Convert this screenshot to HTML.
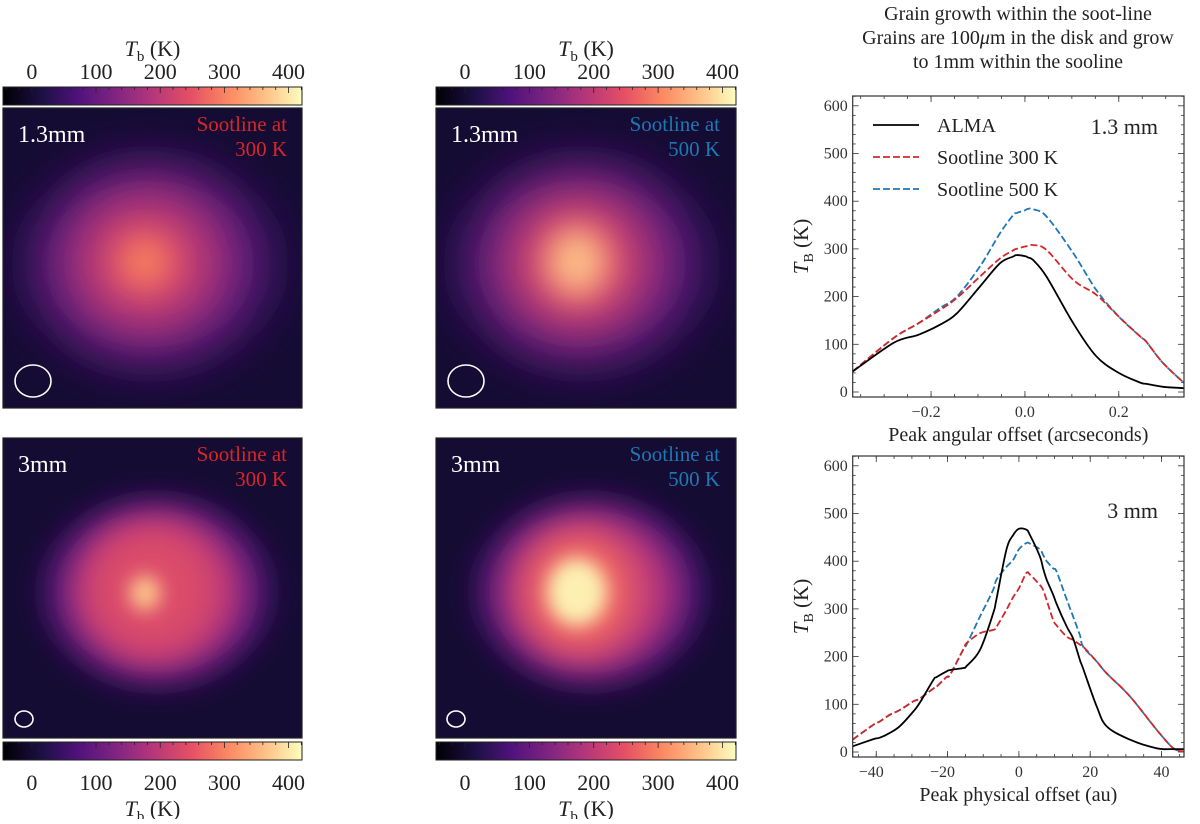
<!DOCTYPE html>
<html><head><meta charset="utf-8"><style>
body{margin:0;background:#fff;width:1200px;height:819px;overflow:hidden}
svg, svg text{font-family:"Liberation Serif","DejaVu Serif",serif}
</style></head><body>
<svg id="fig" width="1200" height="819" viewBox="0 0 1200 819" xmlns="http://www.w3.org/2000/svg" font-family="Liberation Serif, DejaVu Serif, serif">
<defs>
<linearGradient id="magma" x1="0" x2="1" y1="0" y2="0">
<stop offset="0" stop-color="#000004"/><stop offset="0.13" stop-color="#1c1044"/><stop offset="0.25" stop-color="#4f127b"/><stop offset="0.38" stop-color="#812581"/><stop offset="0.5" stop-color="#b5367a"/><stop offset="0.63" stop-color="#e55064"/><stop offset="0.75" stop-color="#fb8761"/><stop offset="0.88" stop-color="#fec287"/><stop offset="1" stop-color="#fcfdbf"/>
</linearGradient>
<filter id="b30" x="-50%" y="-50%" width="200%" height="200%"><feGaussianBlur stdDeviation="26"/></filter>
<filter id="b18" x="-50%" y="-50%" width="200%" height="200%"><feGaussianBlur stdDeviation="16"/></filter>
<filter id="b10" x="-50%" y="-50%" width="200%" height="200%"><feGaussianBlur stdDeviation="9"/></filter>
<clipPath id="c1"><rect x="3" y="108" width="299" height="300"/></clipPath>
<clipPath id="c2"><rect x="436" y="108" width="300" height="300"/></clipPath>
<clipPath id="c3"><rect x="3" y="438" width="299" height="300"/></clipPath>
<clipPath id="c4"><rect x="436" y="438" width="300" height="300"/></clipPath>
</defs>

<g>
<rect x="3" y="87" width="299" height="18" fill="url(#magma)" stroke="#222" stroke-width="1"/>
</g>
<g>
<rect x="436" y="87" width="300" height="18" fill="url(#magma)" stroke="#222" stroke-width="1"/>
</g>
<g>
<rect x="3" y="742" width="299" height="18" fill="url(#magma)" stroke="#222" stroke-width="1"/>
</g>
<g>
<rect x="436" y="742" width="300" height="18" fill="url(#magma)" stroke="#222" stroke-width="1"/>
</g>
<g id="cbticks" font-size="22" fill="#222" text-anchor="middle"></g>

<g clip-path="url(#c1)">
<rect x="3" y="108" width="299" height="300" fill="#140c33"/>
<ellipse cx="150" cy="264" rx="122" ry="102" fill="#4e1579" filter="url(#b30)"/>
<ellipse cx="148" cy="263" rx="88" ry="78" fill="#9c2d7e" filter="url(#b30)"/>
<ellipse cx="146" cy="262" rx="55" ry="52" fill="#da4769" filter="url(#b30)"/>
<ellipse cx="145" cy="262" rx="26" ry="26" fill="#f7805f" filter="url(#b18)"/>
<ellipse cx="33" cy="381" rx="18" ry="16" fill="none" stroke="#fff" stroke-width="1.6"/>
</g>
<g clip-path="url(#c2)">
<rect x="436" y="108" width="300" height="300" fill="#140c33"/>
<ellipse cx="582" cy="264" rx="122" ry="102" fill="#4e1579" filter="url(#b30)"/>
<ellipse cx="580" cy="263" rx="88" ry="78" fill="#9c2d7e" filter="url(#b30)"/>
<ellipse cx="578" cy="262" rx="55" ry="55" fill="#e55064" filter="url(#b30)"/>
<ellipse cx="577" cy="262" rx="30" ry="34" fill="#fdbf88" filter="url(#b18)"/>
<ellipse cx="466" cy="381" rx="18" ry="16" fill="none" stroke="#fff" stroke-width="1.6"/>
</g>
<g clip-path="url(#c3)">
<rect x="3" y="438" width="299" height="300" fill="#140c33"/>
<ellipse cx="157" cy="592" rx="112" ry="92" fill="#55177d" filter="url(#b18)"/>
<ellipse cx="156" cy="592" rx="88" ry="78" fill="#b9377a" filter="url(#b18)"/>
<ellipse cx="152" cy="590" rx="62" ry="62" fill="#dc4b69" filter="url(#b18)"/>
<ellipse cx="145" cy="593" rx="16" ry="18" fill="#fdc38a" filter="url(#b10)"/>
<ellipse cx="24" cy="719" rx="9" ry="8" fill="none" stroke="#fff" stroke-width="1.6"/>
</g>
<g clip-path="url(#c4)">
<rect x="436" y="438" width="300" height="300" fill="#140c33"/>
<ellipse cx="590" cy="592" rx="112" ry="92" fill="#55177d" filter="url(#b18)"/>
<ellipse cx="588" cy="592" rx="88" ry="78" fill="#bb387a" filter="url(#b18)"/>
<ellipse cx="580" cy="592" rx="56" ry="60" fill="#ef6562" filter="url(#b18)"/>
<ellipse cx="577" cy="592" rx="30" ry="34" fill="#fcf0b0" filter="url(#b10)"/>
<ellipse cx="456" cy="719" rx="9" ry="8" fill="none" stroke="#fff" stroke-width="1.6"/>
</g>
<g fill="none" stroke="#222" stroke-width="1.2">
<rect x="3" y="108" width="299" height="300"/><rect x="436" y="108" width="300" height="300"/>
<rect x="3" y="438" width="299" height="300"/><rect x="436" y="438" width="300" height="300"/>
</g>
<g font-size="24">
<text x="18" y="142" fill="#fff">1.3mm</text>
<text x="451" y="142" fill="#fff">1.3mm</text>
<text x="18" y="472" fill="#fff">3mm</text>
<text x="451" y="472" fill="#fff">3mm</text>
</g>
<g font-size="21" text-anchor="end">
<text x="287" y="131" fill="#d62728">Sootline at</text>
<text x="287" y="156" fill="#d62728">300 K</text>
<text x="720" y="131" fill="#1f77b4">Sootline at</text>
<text x="720" y="156" fill="#1f77b4">500 K</text>
<text x="287" y="461" fill="#d62728">Sootline at</text>
<text x="287" y="486" fill="#d62728">300 K</text>
<text x="720" y="461" fill="#1f77b4">Sootline at</text>
<text x="720" y="486" fill="#1f77b4">500 K</text>
</g>

<g font-size="20" fill="#222" text-anchor="middle">
<text x="1018" y="20">Grain growth within the soot-line</text>
<text x="1018" y="44">Grains are 100<tspan font-style="italic">μ</tspan>m in the disk and grow</text>
<text x="1018" y="68">to 1mm within the sooline</text>
</g>

<g id="plots"></g>
</svg>
<script>
const cbTicks = [0, 100, 200, 300, 400];
const topX = [-0.367,-0.28,-0.227,-0.181,-0.145,-0.096,-0.053,-0.025,-0.018,0,0.007,0.018,0.046,0.103,0.152,0.2,0.245,0.259,0.294,0.339];
const topAlma = [43,103,120,141,165,221,270,284,287,285,282,276,242,144,75,40,20,17,11,8];
const topRed = [43,113,144,172,197,242,280,297,300,305,306,308,298,235,204,158,117,105,61,19];
const topBlue = [43,113,144,176,200,263,333,371,375,381,384,383,368,291,214,158,117,105,61,19];
const topXTicks = [-0.2, 0.0, 0.2];
const topXTickLabels = ["\u22120.2","0.0","0.2"];
const yTicks = [0,100,200,300,400,500,600];
const botX = [-46.6,-40.8,-39,-36.2,-33.4,-29.6,-27.8,-24,-23.1,-20.3,-19.3,-15.6,-14.7,-10.9,-7.2,-6.3,-3.5,-1.6,0,2.1,3.1,5.9,6.8,7.8,9.6,10.6,13.4,15.2,17.1,18,21.8,24.6,31.1,38.6,43.3,46.3];
const botAlma = [12,27,30,40,54,85,103,151,157,169,172,176,180,214,291,320,424,455,468,466,455,410,385,361,330,310,263,238,193,175,96,54,26,8,6,6];
const botRed = [26,57,64,78,88,106,112,133,137,157,162,215,228,249,256,262,298,325,343,375,372,350,340,318,277,265,242,235,225,221,190,165,117,47,8,1];
const botBlue = [26,57,64,78,88,106,112,133,137,157,162,215,225,284,340,361,388,403,425,438,437,425,413,400,385,378,320,284,245,221,190,165,117,47,8,1];
const botXTicks = [-40,-20,0,20,40];
const botXTickLabels = ["\u221240","\u221220","0","20","40"];

const NS = "http://www.w3.org/2000/svg";
function mk(parent, tag, attrs, text){const e=document.createElementNS(NS,tag);for(const k in attrs)e.setAttribute(k,attrs[k]);if(text!==undefined)e.textContent=text;parent.appendChild(e);return e;}

const cbG = document.getElementById('cbticks');
const cbSets = [{x0:3,w:299,y:87,lab:71,title:48},{x0:436,w:300,y:87,lab:71,title:48},{x0:3,w:299,y:742,lab:782,title:808},{x0:436,w:300,y:742,lab:782,title:808}];
const cbMin=-45, cbMax=421;
cbSets.forEach(s=>{
  const sx = v => s.x0 + (v-cbMin)/(cbMax-cbMin)*s.w;
  for(let v=-40; v<=420; v+=20){
    const maj = v%100===0;
    const t = mk(cbG,'line',{x1:sx(v),x2:sx(v),y1:s.y,y2:s.y+(maj?6:3),stroke:'#222','stroke-width':0.8});
    
    
  }
  cbTicks.forEach(v=>{
    const t = mk(cbG,'text',{x:sx(v),y:s.lab+8},String(v));
    
    
  });
  const tt = mk(cbG,'text',{x:s.x0+s.w/2,y:s.title+8});
  
  
  mk(tt,'tspan',{'font-style':'italic'},'T');
  mk(tt,'tspan',{'font-size':15,dy:5},'b');
  mk(tt,'tspan',{dy:-5},' (K)');
});

function smoothPath(pts){
  let d='M'+pts[0][0].toFixed(1)+' '+pts[0][1].toFixed(1);
  for(let i=0;i<pts.length-1;i++){
    const p0=pts[i-1]||pts[i],p1=pts[i],p2=pts[i+1],p3=pts[i+2]||p2;
    const c1=[p1[0]+(p2[0]-p0[0])/6,p1[1]+(p2[1]-p0[1])/6];
    const c2=[p2[0]-(p3[0]-p1[0])/6,p2[1]-(p3[1]-p1[1])/6];
    d+='C'+c1[0].toFixed(1)+' '+c1[1].toFixed(1)+' '+c2[0].toFixed(1)+' '+c2[1].toFixed(1)+' '+p2[0].toFixed(1)+' '+p2[1].toFixed(1);
  }
  return d;
}

const plots = document.getElementById('plots');
function plot(cfg){
  const g = mk(plots,'g',{});
  
  
  const L=852.7,R=1184,T=cfg.top,B=cfg.bottom;
  const sx = v => L + (v-cfg.xmin)/(cfg.xmax-cfg.xmin)*(R-L);
  const sy = v => cfg.y0 - v*cfg.yScale;
  for(let v=cfg.minorStart; v<=cfg.xmax; v+=cfg.minor){
    const X=sx(v); if(X<L||X>R) continue;
    mk(g,'line',{x1:X,x2:X,y1:B,y2:B-3,stroke:'#333','stroke-width':0.8});
    mk(g,'line',{x1:X,x2:X,y1:T,y2:T+3,stroke:'#333','stroke-width':0.8});
  }
  for(let v=0; v<=620; v+=20){
    const Y=sy(v); if(Y<T) continue; const maj=v%100===0;
    mk(g,'line',{x1:L,x2:L+(maj?6:3),y1:Y,y2:Y,stroke:'#333','stroke-width':0.8});
    mk(g,'line',{x1:R,x2:R-(maj?6:3),y1:Y,y2:Y,stroke:'#333','stroke-width':0.8});
  }
  cfg.xt.forEach((v,i)=>{
    const X=sx(v);
    mk(g,'line',{x1:X,x2:X,y1:B,y2:B-6,stroke:'#333','stroke-width':0.8});
    mk(g,'line',{x1:X,x2:X,y1:T,y2:T+6,stroke:'#333','stroke-width':0.8});
    const t=mk(g,'text',{x:X-(cfg.xl[i][0]==='\u2212'?5:0),y:B+20,'font-size':16,'text-anchor':'middle',fill:'#333'},cfg.xl[i]);
    
    
  });
  yTicks.forEach(v=>{
    const t=mk(g,'text',{x:L-5,y:sy(v)+5,'font-size':16,'text-anchor':'end',fill:'#333'},String(v));
    
    
  });
  const line=(xs,ys,col,dash,nm)=>{
    const pts=xs.map((x,i)=>[sx(x),sy(ys[i])]);
    const p=mk(g,'path',{d:smoothPath(pts),fill:'none',stroke:col,'stroke-width':1.8,'stroke-dasharray':dash||'none','stroke-linejoin':'round'});
    
    
  };
  line(cfg.x,cfg.blue,'#1f77b4','7 3','series-sootline-500k');
  line(cfg.x,cfg.red,'#d62728','7 3','series-sootline-300k');
  line(cfg.x,cfg.alma,'#000','','series-alma');
  const fr=mk(g,'rect',{x:L,y:T,width:R-L,height:B-T,fill:'none',stroke:'#333','stroke-width':1.2});
  
  
  const xl=mk(g,'text',{x:(L+R)/2,y:B+44,'font-size':20,'text-anchor':'middle',fill:'#222'},cfg.xlabel);
  
  
  const yl=mk(g,'text',{x:0,y:0,'font-size':21,'text-anchor':'middle',fill:'#222',transform:`translate(808 ${(T+B)/2}) rotate(-90)`});
  
  
  mk(yl,'tspan',{'font-style':'italic'},'T');
  mk(yl,'tspan',{'font-size':14,dy:5},'B');
  mk(yl,'tspan',{dy:-5},' (K)');
  const wl=mk(g,'text',{x:1158,y:cfg.wlY,'font-size':22,'text-anchor':'end',fill:'#222'},cfg.wl);
  
  
  return {g,sx,sy};
}
const p1=plot({name:'profile-plot-1p3mm',top:96,bottom:397,y0:392,yScale:0.477,xmin:-0.367,xmax:0.339,minor:0.05,minorStart:-0.35,xt:topXTicks,xl:topXTickLabels,x:topX,alma:topAlma,red:topRed,blue:topBlue,xlabel:'Peak angular offset (arcseconds)',wl:'1.3 mm',wlY:134});
plot({name:'profile-plot-3mm',top:456,bottom:757,y0:752,yScale:0.477,xmin:-46.6,xmax:46.3,minor:5,minorStart:-45,xt:botXTicks,xl:botXTickLabels,x:botX,alma:botAlma,red:botRed,blue:botBlue,xlabel:'Peak physical offset (au)',wl:'3 mm',wlY:518});

const lg=mk(p1.g,'g',{});


const legItems=[['ALMA','#000',''],['Sootline 300 K','#d62728','7 3'],['Sootline 500 K','#1f77b4','7 3']];
legItems.forEach((it,i)=>{
  const y=125+i*32;
  mk(lg,'line',{x1:873,x2:919,y1:y,y2:y,stroke:it[1],'stroke-width':1.8,'stroke-dasharray':it[2]||'none'});
  const t=mk(lg,'text',{x:937,y:y+7,'font-size':20,fill:'#222'},it[0]);
  
  
});
</script>
</body></html>
